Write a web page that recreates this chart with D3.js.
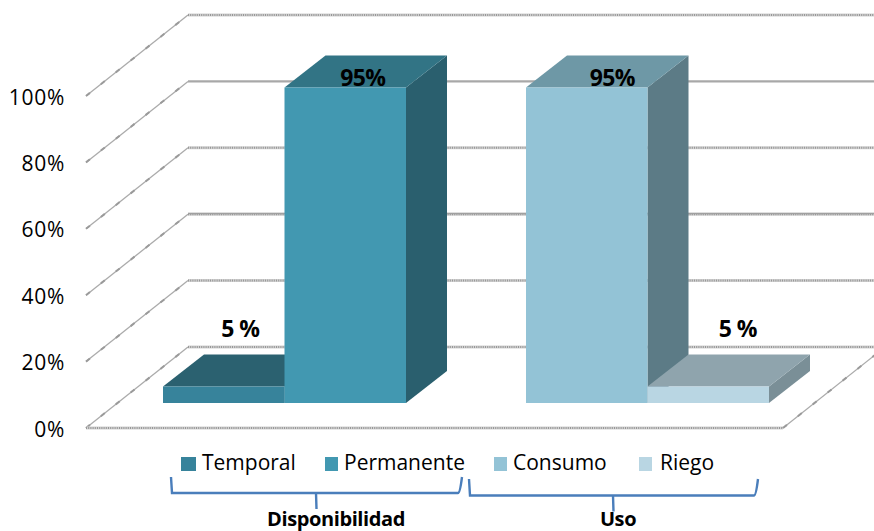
<!DOCTYPE html>
<html><head><meta charset="utf-8">
<script src="https://cdn.jsdelivr.net/npm/d3@7"></script>
<style>html,body{margin:0;padding:0;background:#fff}svg{display:block}text{font-family:"Open Sans",sans-serif;fill:#000}</style>
</head><body><svg id="c" width="874" height="531"></svg>
<script>
const categories = ["Disponibilidad", "Uso"];
const seriesNames = [["Temporal", "Permanente"], ["Consumo", "Riego"]];
const seriesValues = [[5, 95], [95, 5]];
const valueLabels = [["5 %", "95%"], ["95%", "5 %"]];
const ticks = [0, 20, 40, 60, 80, 100];
const gridStyle = ["dot", "dot", "mix", "dot", "solid", "dot"];
const frontColors = [["#37839b", "#4298b1"], ["#93c3d6", "#b9d6e3"]];
const topColors = [["#2b6170", "#327485"], ["#6e98a6", "#8fa4ad"]];
const sideColors = [["#2a5f6e", "#2a5f6e"], ["#5c7b86", "#7a8f97"]];

const svg = d3.select("#c");
const floorDepth = {dx: 102, dy: -81}, barDepth = {dx: 41, dy: -32}, barInset = 25;
const y = d3.scaleLinear().domain([0, 100]).range([428, 96]);
const x = d3.scaleBand().domain(categories).range([103, 829]).paddingInner(0.3306).paddingOuter(0.1653);
const xs = d3.scaleBand().domain([0, 1]).range([0, x.bandwidth()]);
const plotL = 86, plotR = 783, W = 874;

const grid = svg.append("g").attr("fill", "none");
function hLine(x1, x2, yy, style) {
  if (style === "solid") {
    grid.append("line").attr("x1", x1).attr("x2", x2).attr("y1", yy).attr("y2", yy).attr("stroke", "#a8a8a8").attr("stroke-width", 2.2);
    return;
  }
  grid.append("line").attr("x1", x1).attr("x2", x2).attr("y1", yy).attr("y2", yy).attr("stroke", "#d2d2d2").attr("stroke-width", 3);
  grid.append("line").attr("x1", x1).attr("x2", x2).attr("y1", yy).attr("y2", yy).attr("stroke", "#979797").attr("stroke-width", 2).attr("stroke-dasharray", "1 1.2");
  if (style === "mix") grid.append("line").attr("x1", x1).attr("x2", x2).attr("y1", yy - 0.7).attr("y2", yy - 0.7).attr("stroke", "#a0a0a0").attr("stroke-width", 1.3);
}
function diag(x1, y1, x2, y2) {
  grid.append("line").attr("x1", x1).attr("y1", y1).attr("x2", x2).attr("y2", y2).attr("stroke", "#ababab").attr("stroke-width", 1.3);
  grid.append("line").attr("x1", x1).attr("y1", y1).attr("x2", x2).attr("y2", y2).attr("stroke", "#9a9a9a").attr("stroke-width", 2).attr("stroke-dasharray", "5 14");
}
ticks.forEach((t, i) => {
  hLine(plotL + floorDepth.dx, W, y(t) + floorDepth.dy, gridStyle[i]);
  diag(plotL, y(t), plotL + floorDepth.dx, y(t) + floorDepth.dy);
});
hLine(plotL, plotR, y(0), "dot");
diag(plotR, y(0), plotR + floorDepth.dx, y(0) + floorDepth.dy);

svg.append("g").selectAll("text").data(ticks).join("text")
  .attr("x", 65).attr("y", d => y(d) + 8.5).attr("text-anchor", "end")
  .attr("font-size", 21).attr("letter-spacing", 0.7).text(d => d + "%");

const poly = (g, pts, fill) => g.append("polygon").attr("points", pts.map(p => p.join(",")).join(" ")).attr("fill", fill);
categories.forEach((c, ci) => {
  [0, 1].forEach(si => {
    const g = svg.append("g");
    const v = seriesValues[ci][si];
    const x0 = x(c) + xs(si), x1 = x0 + xs.bandwidth();
    const yb = y(0) - barInset, yt = y(v) - barInset;
    const {dx, dy} = barDepth;
    poly(g, [[x1, yt], [x1 + dx, yt + dy], [x1 + dx, yb + dy], [x1, yb]], sideColors[ci][si]);
    poly(g, [[x0, yt], [x0 + dx, yt + dy], [x1 + dx, yt + dy], [x1, yt]], topColors[ci][si]);
    poly(g, [[x0, yt], [x1, yt], [x1, yb], [x0, yb]], frontColors[ci][si]);
  });
});

const labelDx = [[-4, -3], [5, 9]];
categories.forEach((c, ci) => seriesValues[ci].forEach((v, si) => {
  const cx = x(c) + xs(si) + xs.bandwidth() / 2;
  svg.append("text").attr("x", cx + barDepth.dx / 2 + labelDx[ci][si])
    .attr("y", y(v) - barInset + (v > 50 ? -2 : -49))
    .attr("text-anchor", "middle").attr("font-weight", 700).attr("font-size", 23).attr("letter-spacing", -0.6)
    .text(valueLabels[ci][si]);
}));

const legendX = [[181, 325], [494, 639]];
const legendW = [[15, 13], [13, 13]];
const legendGap = [[6, 6], [6, 8]];
seriesNames.forEach((ns, ci) => ns.forEach((n, si) => {
  svg.append("rect").attr("x", legendX[ci][si]).attr("y", 457).attr("width", legendW[ci][si]).attr("height", 14).attr("fill", frontColors[ci][si]);
  svg.append("text").attr("x", legendX[ci][si] + legendW[ci][si] + legendGap[ci][si]).attr("y", 470).attr("font-size", 21).text(n);
}));

const braces = [
  {x0: 171, x1: 462, y0: 477, y1: 493, mid: 316},
  {x0: 469, x1: 758, y0: 479, y1: 495.5, mid: 613}
];
braces.forEach((b, i) => {
  svg.append("path").attr("fill", "none").attr("stroke", "#4a7ebb").attr("stroke-width", 2.4)
    .attr("d", `M${b.x0},${b.y0}L${b.x0 + 1},${b.y1}L${b.x1 - 4},${b.y1}Q${b.x1 - 2},${b.y1} ${b.x1},${b.y0}M${b.mid},${b.y1}L${b.mid + 0.5},${b.y1 + 16}`);
  svg.append("text").attr("x", i ? 618 : 336).attr("y", 525.5).attr("text-anchor", "middle")
    .attr("font-weight", 700).attr("font-size", 20).attr("letter-spacing", -0.4).text(categories[i]);
});
</script></body></html>
